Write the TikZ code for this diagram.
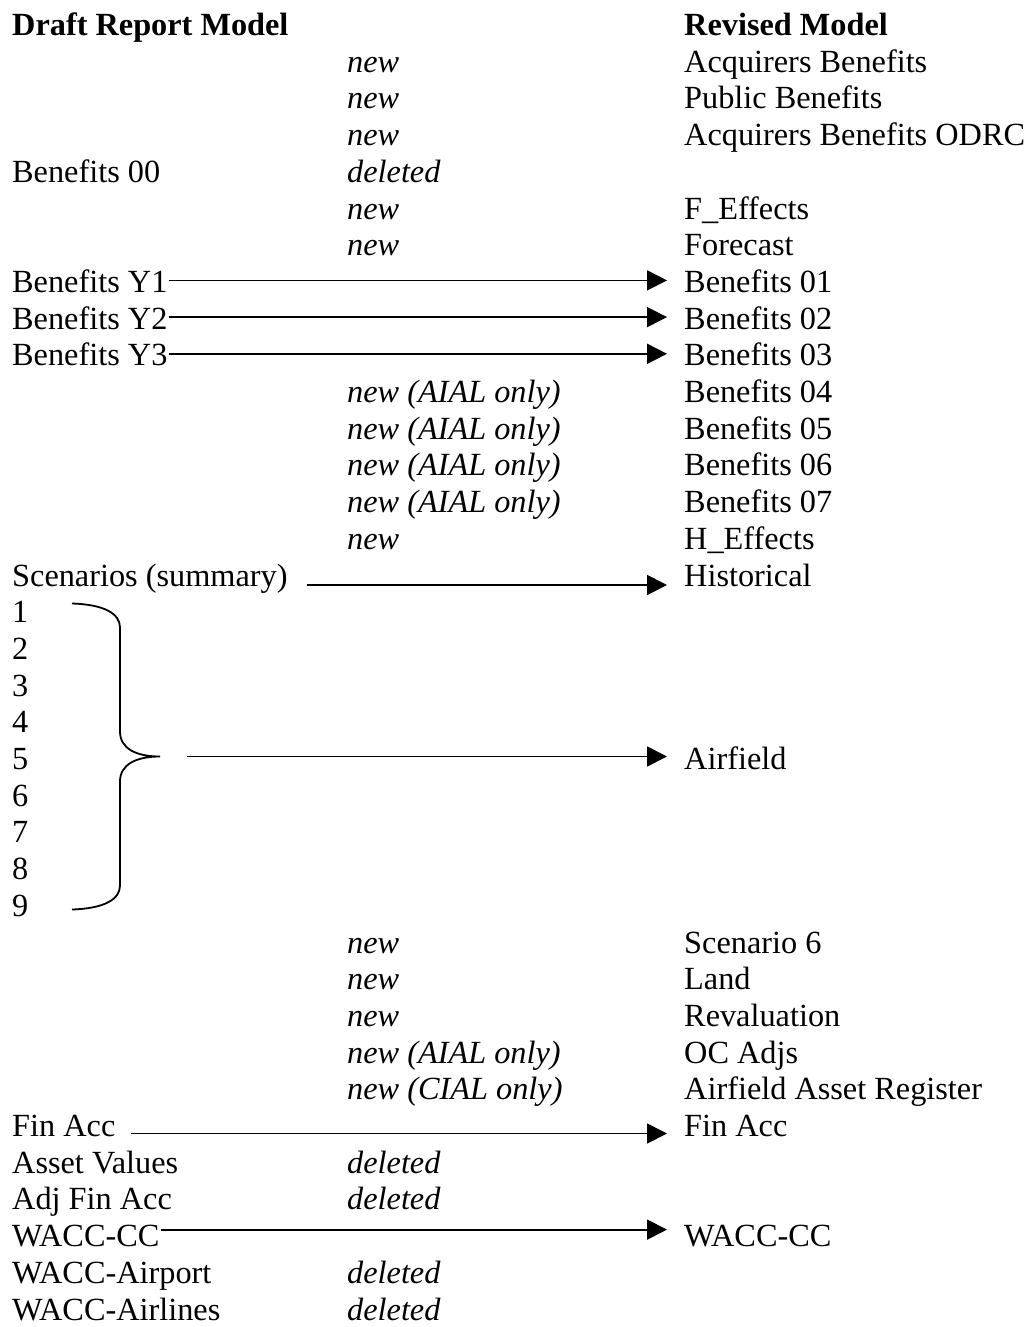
\documentclass[tikz,border=0pt]{standalone}
\usepackage{fontspec}
\setmainfont{Liberation Serif}
\usetikzlibrary{arrows.meta}
\begin{document}
\begin{tikzpicture}[x=1pt,y=-1pt,
  txt/.style={anchor=base west, inner sep=0pt, font=\fontsize{32.3}{36}\selectfont},
  hdr/.style={txt, font=\fontsize{32.3}{36}\selectfont\bfseries},
  note/.style={txt, font=\fontsize{32.3}{36}\selectfont\itshape},
  link/.style={line width=1.8pt, -{Triangle[length=20pt,width=20pt]}},
  bracket/.style={line width=1.8pt}]
\useasboundingbox (0,0) rectangle (1027,1327);
\def\L{12}\def\M{347}\def\R{684}
\def\T{35.5}\def\D{36.7}
% headers
\node[hdr] (hl) at (\L,{\T+\D*0}) {Draft Report Model};
\node[hdr] (hr) at (\R,{\T+\D*0}) {Revised Model};
% rows
\node[note] (m1) at (\M,{\T+\D*1}) {new};
\node[txt]  (r1) at (\R,{\T+\D*1}) {Acquirers Benefits};
\node[note] (m2) at (\M,{\T+\D*2}) {new};
\node[txt]  (r2) at (\R,{\T+\D*2}) {Public Benefits};
\node[note] (m3) at (\M,{\T+\D*3}) {new};
\node[txt]  (r3) at (\R,{\T+\D*3}) {Acquirers Benefits ODRC};
\node[txt]  (l4) at (\L,{\T+\D*4}) {Benefits 00};
\node[note] (m4) at (\M,{\T+\D*4}) {deleted};
\node[note] (m5) at (\M,{\T+\D*5}) {new};
\node[txt]  (r5) at (\R,{\T+\D*5}) {F\_Effects};
\node[note] (m6) at (\M,{\T+\D*6}) {new};
\node[txt]  (r6) at (\R,{\T+\D*6}) {Forecast};
\node[txt]  (l7) at (\L,{\T+\D*7}) {Benefits Y1};
\node[txt]  (r7) at (\R,{\T+\D*7}) {Benefits 01};
\node[txt]  (l8) at (\L,{\T+\D*8}) {Benefits Y2};
\node[txt]  (r8) at (\R,{\T+\D*8}) {Benefits 02};
\node[txt]  (l9) at (\L,{\T+\D*9}) {Benefits Y3};
\node[txt]  (r9) at (\R,{\T+\D*9}) {Benefits 03};
\node[note] (m10) at (\M,{\T+\D*10}) {new (AIAL only)};
\node[txt]  (r10) at (\R,{\T+\D*10}) {Benefits 04};
\node[note] (m11) at (\M,{\T+\D*11}) {new (AIAL only)};
\node[txt]  (r11) at (\R,{\T+\D*11}) {Benefits 05};
\node[note] (m12) at (\M,{\T+\D*12}) {new (AIAL only)};
\node[txt]  (r12) at (\R,{\T+\D*12}) {Benefits 06};
\node[note] (m13) at (\M,{\T+\D*13}) {new (AIAL only)};
\node[txt]  (r13) at (\R,{\T+\D*13}) {Benefits 07};
\node[note] (m14) at (\M,{\T+\D*14}) {new};
\node[txt]  (r14) at (\R,{\T+\D*14}) {H\_Effects};
\node[txt]  (l15) at (\L,{\T+\D*15}) {Scenarios (summary)};
\node[txt]  (r15) at (\R,{\T+\D*15}) {Historical};
\node[txt]  (s1) at (\L,{\T+\D*16}) {1};
\node[txt]  (s2) at (\L,{\T+\D*17}) {2};
\node[txt]  (s3) at (\L,{\T+\D*18}) {3};
\node[txt]  (s4) at (\L,{\T+\D*19}) {4};
\node[txt]  (s5) at (\L,{\T+\D*20}) {5};
\node[txt]  (r20) at (\R,{\T+\D*20}) {Airfield};
\node[txt]  (s6) at (\L,{\T+\D*21}) {6};
\node[txt]  (s7) at (\L,{\T+\D*22}) {7};
\node[txt]  (s8) at (\L,{\T+\D*23}) {8};
\node[txt]  (s9) at (\L,{\T+\D*24}) {9};
\node[note] (m25) at (\M,{\T+\D*25}) {new};
\node[txt]  (r25) at (\R,{\T+\D*25}) {Scenario 6};
\node[note] (m26) at (\M,{\T+\D*26}) {new};
\node[txt]  (r26) at (\R,{\T+\D*26}) {Land};
\node[note] (m27) at (\M,{\T+\D*27}) {new};
\node[txt]  (r27) at (\R,{\T+\D*27}) {Revaluation};
\node[note] (m28) at (\M,{\T+\D*28}) {new (AIAL only)};
\node[txt]  (r28) at (\R,{\T+\D*28}) {OC Adjs};
\node[note] (m29) at (\M,{\T+\D*29}) {new (CIAL only)};
\node[txt]  (r29) at (\R,{\T+\D*29}) {Airfield Asset Register};
\node[txt]  (l30) at (\L,{\T+\D*30}) {Fin Acc};
\node[txt]  (r30) at (\R,{\T+\D*30}) {Fin Acc};
\node[txt]  (l31) at (\L,{\T+\D*31}) {Asset Values};
\node[note] (m31) at (\M,{\T+\D*31}) {deleted};
\node[txt]  (l32) at (\L,{\T+\D*32}) {Adj Fin Acc};
\node[note] (m32) at (\M,{\T+\D*32}) {deleted};
\node[txt]  (l33) at (\L,{\T+\D*33}) {WACC-CC};
\node[txt]  (r33) at (\R,{\T+\D*33}) {WACC-CC};
\node[txt]  (l34) at (\L,{\T+\D*34}) {WACC-Airport};
\node[note] (m34) at (\M,{\T+\D*34}) {deleted};
\node[txt]  (l35) at (\L,{\T+\D*35}) {WACC-Airlines};
\node[note] (m35) at (\M,{\T+\D*35}) {deleted};
% renamed sheets
\draw[link] ([xshift=1pt,yshift=12pt]l7.base east) -- ([xshift=-17pt,yshift=12pt]r7.base west);
\draw[link] ([xshift=1pt,yshift=12pt]l8.base east) -- ([xshift=-17pt,yshift=12pt]r8.base west);
\draw[link] ([xshift=1pt,yshift=12pt]l9.base east) -- ([xshift=-17pt,yshift=12pt]r9.base west);
\draw[link] ([xshift=19pt,yshift=1pt]l15.base east) -- ([xshift=-17pt,yshift=1pt]r15.base west);
\draw[link] ([xshift=15pt,yshift=3pt]l30.base east) -- ([xshift=-17pt,yshift=3pt]r30.base west);
\draw[link] ([xshift=1pt,yshift=17pt]l33.base east) -- ([xshift=-17pt,yshift=17pt]r33.base west);
% brace gathering scenarios 1-9
\coordinate (tip) at (160,{\T+\D*20-13});
\draw[bracket] (72,{\T+\D*20-166}) .. controls (104,{\T+\D*20-165}) and (120,{\T+\D*20-156}) .. (120,{\T+\D*20-142})
  -- (120,{\T+\D*20-38}) .. controls (120,{\T+\D*20-21}) and (136,{\T+\D*20-13}) .. (tip)
  .. controls (136,{\T+\D*20-13}) and (120,{\T+\D*20-5}) .. (120,{\T+\D*20+12})
  -- (120,{\T+\D*20+116}) .. controls (120,{\T+\D*20+130}) and (104,{\T+\D*20+139}) .. (72,{\T+\D*20+140});
\draw[link] ([xshift=27pt]tip) -- ([xshift=-17pt,yshift=13pt]r20.base west);
\end{tikzpicture}
\end{document}
